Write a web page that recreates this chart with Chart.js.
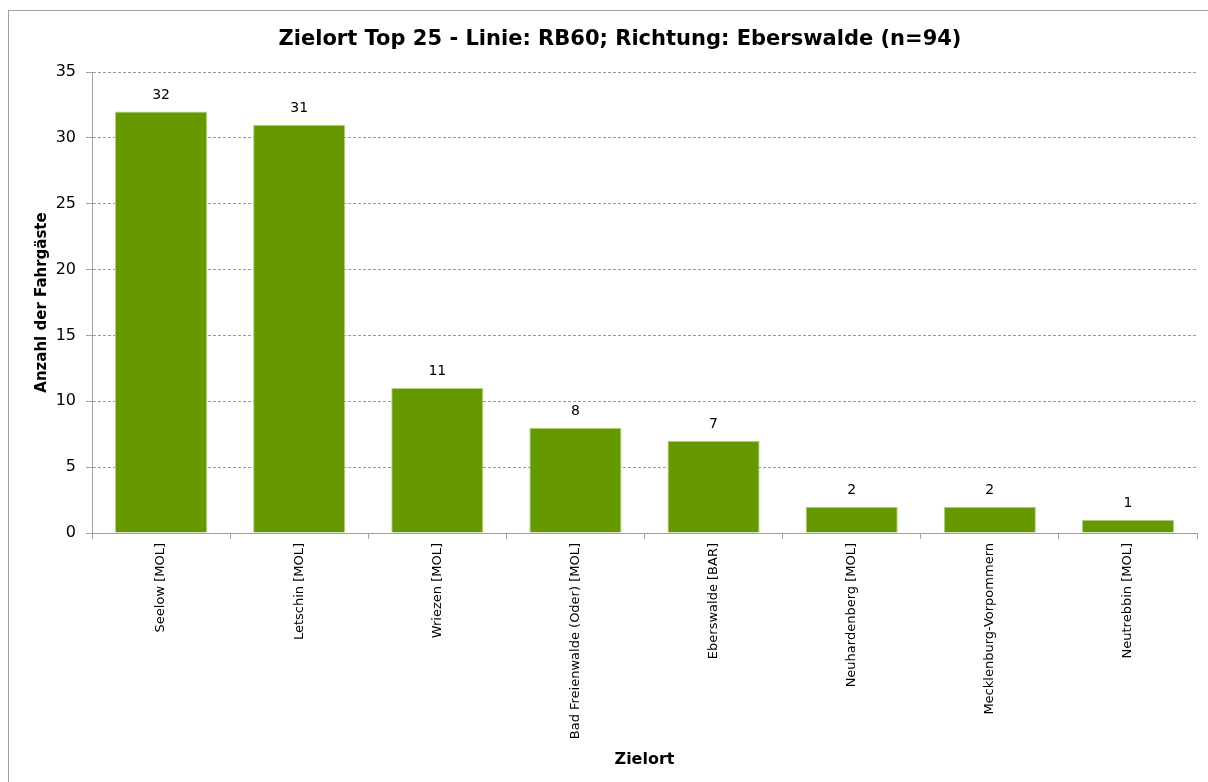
<!DOCTYPE html>
<html lang="de">
<head>
<meta charset="utf-8">
<title>Zielort Top 25 - RB60 Richtung Eberswalde</title>
<script src="https://cdn.jsdelivr.net/npm/chart.js@4.4.1/dist/chart.umd.min.js"></script>
<style>
  html, body { margin: 0; padding: 0; background: #fff; overflow: hidden; }
  #box {
    position: absolute; left: 8px; top: 10px;
    width: 1222px; height: 771px;
    border: 1px solid #a0a0a0;
  }
  canvas { display: block; }
</style>
</head>
<body>
<div id="box"><canvas id="chart" width="1222" height="771"></canvas></div>
<script>
// Daten
const orte = ['Seelow [MOL]', 'Letschin [MOL]', 'Wriezen [MOL]', 'Bad Freienwalde (Oder) [MOL]',
  'Eberswalde [BAR]', 'Neuhardenberg [MOL]', 'Mecklenburg-Vorpommern', 'Neutrebbin [MOL]'];
const fahrgaeste = [32, 31, 11, 8, 7, 2, 2, 1];
const yTicks = [0, 5, 10, 15, 20, 25, 30, 35];

const FONT = 'DejaVu Sans';

// Werte über den Balken
const valueLabels = {
  id: 'valueLabels',
  afterDatasetsDraw(chart) {
    const ctx = chart.ctx;
    const meta = chart.getDatasetMeta(0);
    ctx.save();
    ctx.font = '14px "' + FONT + '"';
    ctx.fillStyle = '#000';
    ctx.textAlign = 'center';
    ctx.textBaseline = 'alphabetic';
    meta.data.forEach((bar, i) => {
      ctx.fillText(String(fahrgaeste[i]), bar.x, bar.y - 13);
    });
    ctx.restore();
  }
};

const ctx = document.getElementById('chart').getContext('2d');
new Chart(ctx, {
  type: 'bar',
  data: {
    labels: orte,
    datasets: [{
      label: 'Anzahl der Fahrgäste',
      data: fahrgaeste,
      backgroundColor: '#669900',
      borderColor: '#b5cf85',
      borderWidth: 1,
      barPercentage: 0.667,
      categoryPercentage: 1
    }]
  },
  options: {
    responsive: false,
    animation: false,
    // links und rechts gleich, damit der Titel mittig über dem ganzen Diagramm steht
    layout: { padding: { left: 34, right: 34, top: 0, bottom: 0 } },
    plugins: {
      legend: { display: false },
      tooltip: { enabled: false },
      title: {
        display: true,
        text: 'Zielort Top 25 - Linie: RB60; Richtung: Eberswalde (n=94)',
        color: '#000',
        font: { family: FONT, size: 21, weight: 'bold', lineHeight: 1.2 },
        padding: { top: 16.4, bottom: 19.4 }
      }
    },
    scales: {
      x: {
        offset: true,
        grid: {
          offset: true,
          drawOnChartArea: false,
          drawTicks: true,
          tickLength: 6,
          tickColor: '#a0a0a0'
        },
        border: { color: '#a0a0a0', width: 1 },
        ticks: {
          autoSkip: false,
          minRotation: 90,
          maxRotation: 90,
          padding: 4,
          color: '#000',
          font: { family: FONT, size: 13 }
        },
        title: {
          display: true,
          text: 'Zielort',
          color: '#000',
          font: { family: FONT, size: 16, weight: 'bold', lineHeight: 1.2 },
          padding: { top: 0, bottom: 12.4 }
        },
        afterFit(scale) { scale.height = 249; }
      },
      y: {
        min: 0,
        max: 35,
        afterBuildTicks(scale) { scale.ticks = yTicks.map(v => ({ value: v })); },
        grid: {
          color: '#9a9a9a',
          tickColor: '#a0a0a0',
          tickLength: 6,
          tickBorderDash: []
        },
        border: { color: '#a0a0a0', width: 1, dash: [3, 2] },
        ticks: {
          padding: 10,
          color: '#000',
          font: { family: FONT, size: 16 }
        },
        title: {
          display: true,
          text: 'Anzahl der Fahrgäste',
          color: '#000',
          font: { family: FONT, size: 15, weight: 'bold', lineHeight: 1.2 },
          padding: { top: -10, bottom: 0 }
        },
        afterFit(scale) { scale.width = 49; }
      }
    }
  },
  plugins: [valueLabels]
});
</script>
</body>
</html>
